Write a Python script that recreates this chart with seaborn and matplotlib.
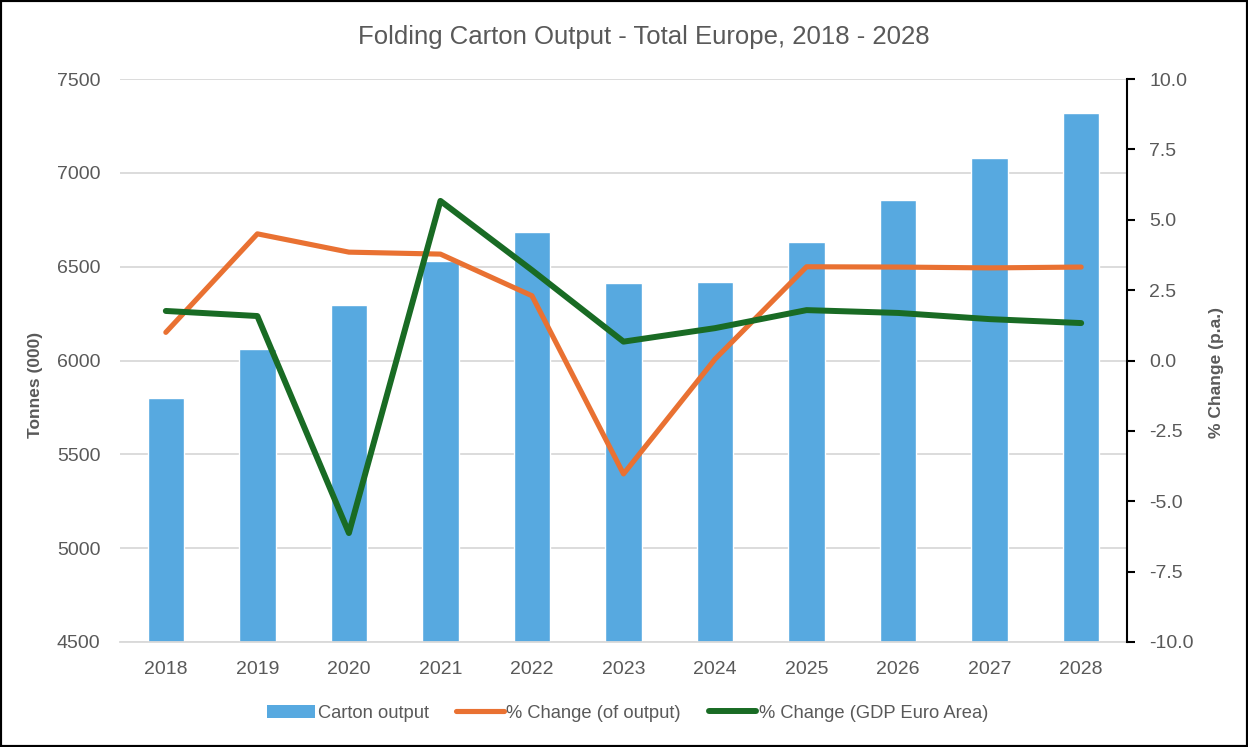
import numpy as np
import pandas as pd
import matplotlib
matplotlib.use("Agg")
import matplotlib.pyplot as plt
import seaborn as sns
from matplotlib.patches import Rectangle
from matplotlib.lines import Line2D
from matplotlib.patches import Patch

# data
years = ['2018', '2019', '2020', '2021', '2022', '2023', '2024', '2025', '2026', '2027', '2028']
carton_output = [5800, 6062, 6296, 6530, 6685, 6413, 6418, 6632, 6856, 7080, 7320]
pct_output = [1.0, 4.5, 3.85, 3.78, 2.3, -4.03, 0.05, 3.33, 3.32, 3.29, 3.32]
pct_gdp = [1.76, 1.58, -6.13, 5.67, 3.21, 0.67, 1.15, 1.79, 1.69, 1.47, 1.33]

left_ticks = [4500, 5000, 5500, 6000, 6500, 7000, 7500]
right_ticks = [-10.0, -7.5, -5.0, -2.5, 0.0, 2.5, 5.0, 7.5, 10.0]

sns.set_theme(style='white')
plt.rcParams['font.family'] = ['Liberation Sans', 'DejaVu Sans']

BLUE = '#57A9E0'
ORANGE = '#E97132'
GREEN = '#196B24'
TXT = '#595959'
GRID = '#D9D9D9'

df = pd.DataFrame({'year': years, 'output': carton_output,
                   'pos': np.arange(len(years)),
                   'pct_out': pct_output, 'pct_gdp': pct_gdp})

fig = plt.figure(figsize=(12.48, 7.47), dpi=100)
ax = fig.add_axes([0.0962, 0.1406, 0.8068, 0.7536])

sns.barplot(data=df, x='year', y='output', color=BLUE, width=0.40,
            saturation=1, ax=ax, zorder=2)
ax.set_ylim(4500, 7500)
ax.set_xlim(-0.5, len(years) - 0.5)
ax.set_yticks(left_ticks)
ax.yaxis.grid(True, color=GRID, linewidth=1.3, zorder=0)
ax.set_axisbelow(True)
for s in ['left', 'top', 'right']:
    ax.spines[s].set_visible(False)
ax.spines['bottom'].set_color(GRID)
ax.spines['bottom'].set_linewidth(1.3)
ax.tick_params(axis='both', length=0, labelsize=14, colors=TXT, pad=14)
ax.set_xlabel('')
ax.set_ylabel('Tonnes (000)', fontsize=12.5, fontweight='bold', color=TXT,
              labelpad=10, y=0.456)

ax2 = ax.twinx()
sns.lineplot(data=df, x='pos', y='pct_out', color=ORANGE, linewidth=3.7,
             ax=ax2, solid_capstyle='round', solid_joinstyle='round')
sns.lineplot(data=df, x='pos', y='pct_gdp', color=GREEN, linewidth=4.3,
             ax=ax2, solid_capstyle='round', solid_joinstyle='round')
ax2.set_ylim(-10, 10)
ax2.set_yticks(right_ticks)
ax2.set_yticklabels([f'{t:.1f}' for t in right_ticks])
ax2.set_xlim(-0.5, len(years) - 0.5)
for s in ['left', 'top', 'bottom']:
    ax2.spines[s].set_visible(False)
ax2.spines['right'].set_color('black')
ax2.spines['right'].set_linewidth(1.5)
ax2.tick_params(axis='y', direction='out', length=6, width=1.5, color='black',
                labelsize=14, labelcolor=TXT, pad=10)
ax2.set_ylabel('% Change (p.a.)', fontsize=12.5, fontweight='bold', color=TXT,
               labelpad=11, y=0.478)
ax2.grid(False)

fig.suptitle('Folding Carton Output - Total Europe, 2018 - 2028', x=0.516, y=0.966,
             fontsize=18.5, color=TXT)

handles = [Patch(facecolor=BLUE, edgecolor='none'),
           Line2D([0], [0], color=ORANGE, linewidth=3.7, solid_capstyle='round'),
           Line2D([0], [0], color=GREEN, linewidth=4.3, solid_capstyle='round')]
labels = ['Carton output', '% Change (of output)', '% Change (GDP Euro Area)']
fig.legend(handles, labels, loc='center', bbox_to_anchor=(0.503, 0.045), ncol=3,
           frameon=False, handlelength=2.6, handletextpad=0.15, columnspacing=1.5,
           prop={'size': 13.2}, labelcolor=TXT)

fig.patches.append(Rectangle((0, 0), 1, 1, transform=fig.transFigure, fill=False,
                             edgecolor='black', linewidth=3, zorder=10))

fig.savefig('out.png', dpi=100, facecolor='white')
